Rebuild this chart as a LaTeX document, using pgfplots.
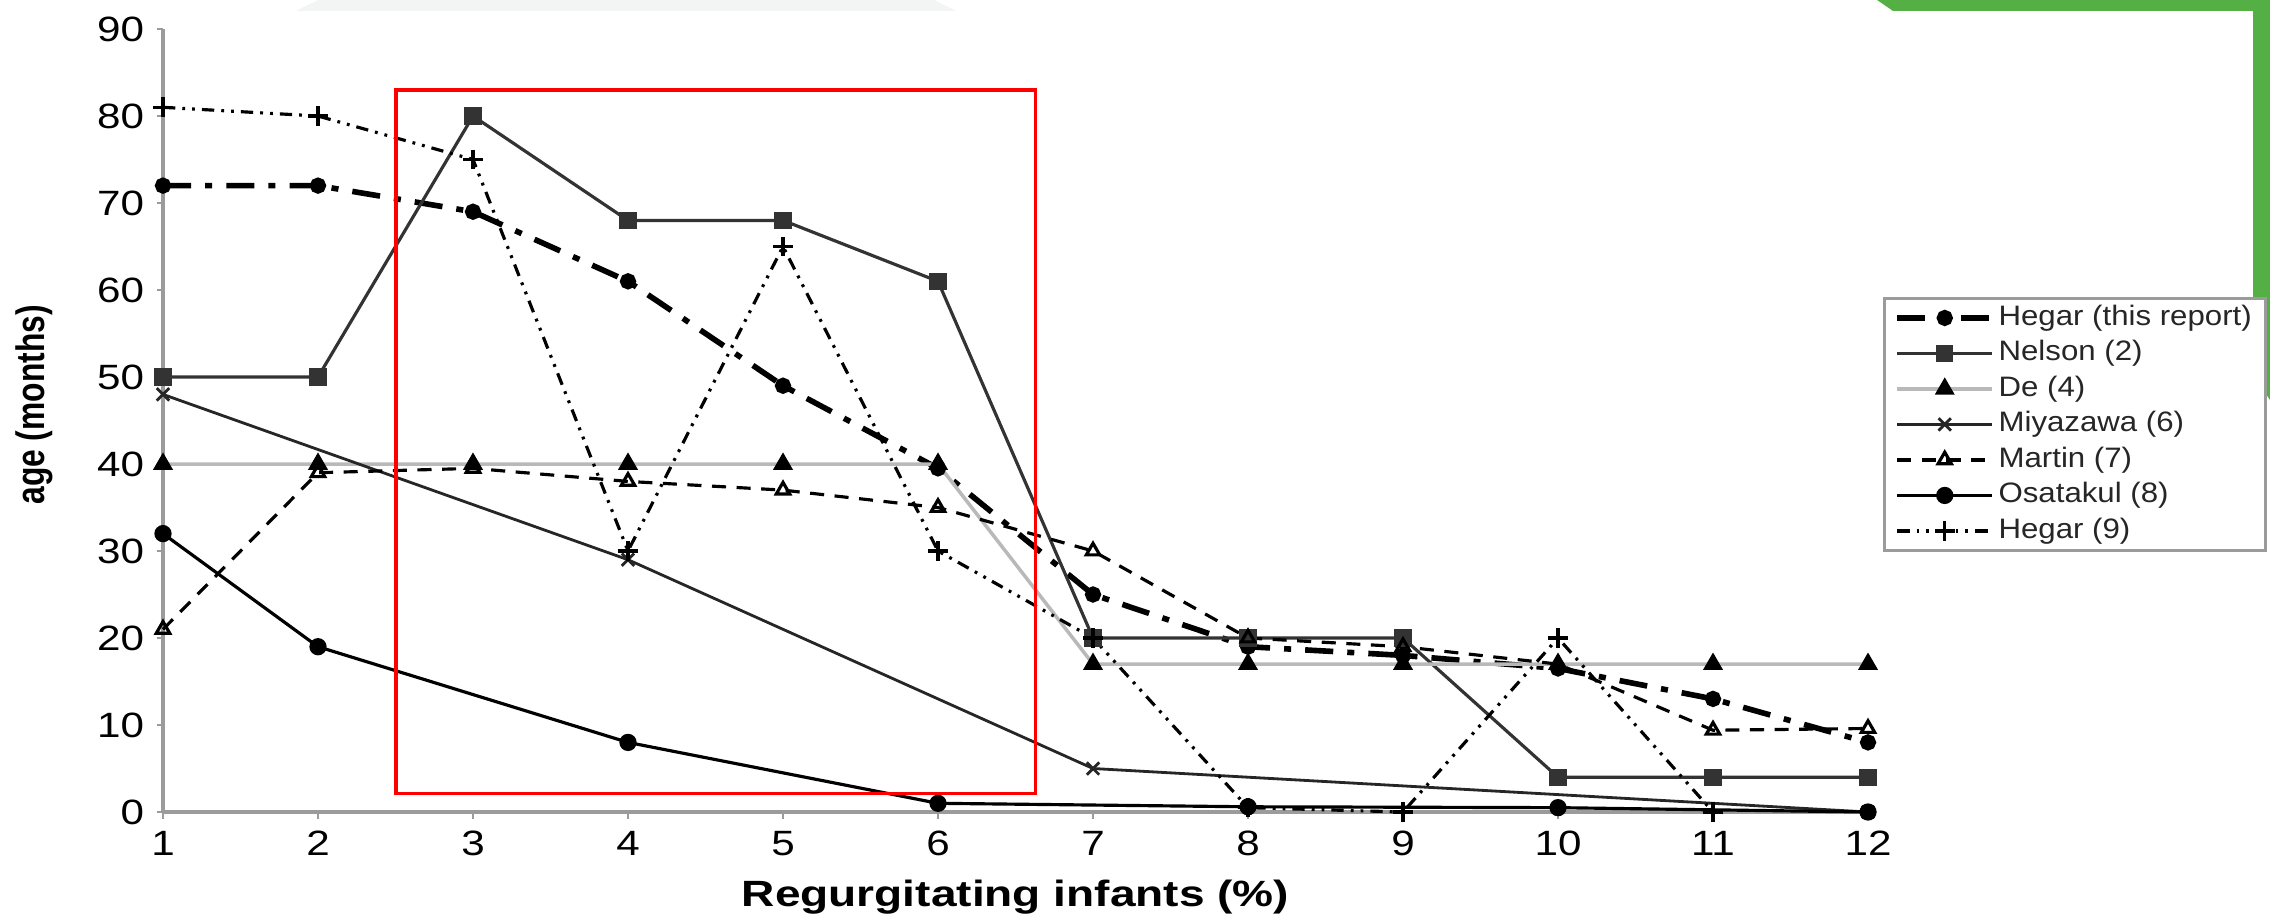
\documentclass[border=0pt]{standalone}
\usepackage{fontspec}
\setmainfont{Liberation Sans}
\newfontfamily\tickfont[FakeStretch=1.2]{Liberation Sans}
\newfontfamily\xlabfont[FakeStretch=1.26]{Liberation Sans}
\newfontfamily\ylabfont[FakeStretch=0.8]{Liberation Sans}
\newfontfamily\legfont[FakeStretch=1.11]{Liberation Sans}
\usepackage{pgfplots}
\pgfplotsset{compat=1.18}
\definecolor{axgray}{RGB}{155,155,155}
\definecolor{deco}{RGB}{84,176,68}
\definecolor{faint}{RGB}{243,245,244}

\begin{document}
\begin{tikzpicture}
\useasboundingbox (0,0) rectangle (227mm,91.5mm);
% background decoration, in pixels of the 2270x915 reference
\begin{scope}[x=0.1mm,y=-0.1mm,yshift=91.5mm]
\fill[faint] (318,0) -- (934,0) -- (956,11) -- (296,11) -- cycle;
\fill[deco] (1877,0) -- (2270,0) -- (2270,400) -- (2253,375) -- (2253,11) -- (1893,11) -- cycle;
\end{scope}

\begin{axis}[
    at={(16.3mm,10.3mm)}, anchor=south west,
    scale only axis, width=170.5mm, height=78.3mm,
    xmin=1, xmax=12, ymin=0, ymax=90,
    xtick={1,...,12}, ytick={0,10,...,90},
    axis x line=bottom, axis y line=left,
    axis line style={-, axgray, line width=1.4pt},
    tick style={axgray, line width=0.8pt},
    tick align=outside, major tick length=0.65mm,
    tick label style={font=\tickfont\fontsize{10pt}{12pt}\selectfont},
    /pgf/number format/assume math mode=true,
    clip=false,
    xlabel={Regurgitating infants (\%)},
    ylabel={age (months)},
    xlabel style={font=\xlabfont\bfseries\fontsize{10.4pt}{12pt}\selectfont,
        at={(axis description cs:0.5,-0.1213)}, anchor=base},
    ylabel style={font=\ylabfont\bfseries\fontsize{11.3pt}{13pt}\selectfont,
        at={(axis description cs:-0.0757,0.52)}, anchor=center},
    legend image code/.code={\draw[mark repeat=2,mark phase=2,#1]
        plot coordinates {(0mm,0mm) (4.75mm,0mm) (9.5mm,0mm)};},
    legend cell align=left,
    legend style={at={(axis description cs:1.0088,0.6577)}, anchor=north west,
        draw=axgray, line width=0.8pt, fill=white,
        font=\legfont\fontsize{8pt}{9.6pt}\selectfont,
        inner xsep=1mm, inner ysep=0.5pt, row sep=0pt,
        nodes={inner sep=1pt, text height=6.1pt, text depth=2pt, text=black!85}},
]
\addplot[black, line width=1.6pt, dash pattern=on 8pt off 4pt on 2pt off 4pt,
    mark=*, mark size=1.5pt, mark options={solid}] coordinates {
    (1,72) (2,72) (3,69) (4,61) (5,49) (6,39.5) (7,25) (8,19) (9,18) (10,16.5) (11,13) (12,8)
};
\addlegendentry{Hegar (this report)}

\addplot[black!80, line width=0.9pt, mark=square*, mark size=2pt] coordinates {
    (1,50) (2,50) (3,80) (4,68) (5,68) (6,61) (7,20) (8,20) (9,20) (10,4) (11,4) (12,4)
};
\addlegendentry{Nelson (2)}

\addplot[gray!55, line width=1pt, mark=triangle*, mark size=2.3pt,
    mark options={black}] coordinates {
    (1,40) (2,40) (3,40) (4,40) (5,40) (6,40) (7,17) (8,17) (9,17) (10,17) (11,17) (12,17)
};
\addlegendentry{De (4)}

\addplot[black!85, line width=0.8pt, mark=x, mark size=2.5pt] coordinates {
    (1,48) (4,29) (7,5) (12,0)
};
\addlegendentry{Miyazawa (6)}

\addplot[black, line width=0.9pt, dash pattern=on 4pt off 3pt,
    mark=triangle, mark size=2.2pt, mark options={solid}] coordinates {
    (1,21) (2,39) (3,39.5) (4,38) (5,37) (6,35) (7,30) (8,20) (9,19) (10,17) (11,9.4) (12,9.6)
};
\addlegendentry{Martin (7)}

\addplot[black, line width=0.9pt, mark=*, mark size=2pt] coordinates {
    (1,32) (2,19) (4,8) (6,1) (8,0.6) (10,0.5) (12,0)
};
\addlegendentry{Osatakul (8)}

\addplot[black, line width=0.9pt,
    dash pattern=on 3.5pt off 2pt on 0.8pt off 2pt on 0.8pt off 2pt,
    mark=+, mark size=2.8pt, mark options={solid}] coordinates {
    (1,81) (2,80) (3,75) (4,30) (5,65) (6,30) (7,20) (8,0.5) (9,0) (10,20) (11,0)
};
\addlegendentry{Hegar (9)}

\draw[red, line width=0.9pt] (axis cs:2.503,2.15) rectangle (axis cs:6.63,83);
\end{axis}
\end{tikzpicture}
\end{document}
